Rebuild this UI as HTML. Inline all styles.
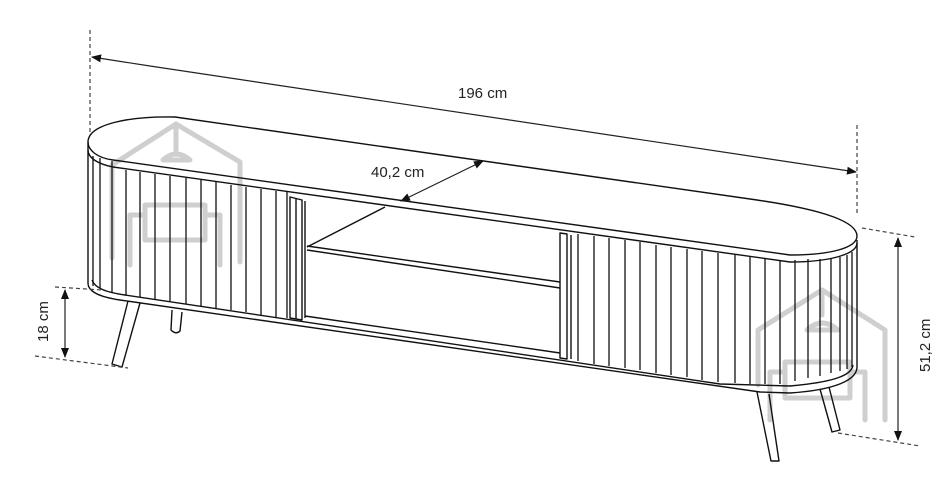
<!DOCTYPE html>
<html><head><meta charset="utf-8"><style>
html,body{margin:0;padding:0;background:#fff;}
svg{display:block;}
text{font-family:"Liberation Sans",sans-serif;font-size:15px;fill:#222;}
</style></head><body>
<svg width="948" height="480" viewBox="0 0 948 480" xmlns="http://www.w3.org/2000/svg">
<defs>
<marker id="a" markerWidth="10" markerHeight="8" refX="9" refY="4" orient="auto" markerUnits="userSpaceOnUse">
<path d="M0,0 L10,4 L0,8 z" fill="#111"/></marker>
</defs>
<path d="M88,142 C88,124 130,116 175,117 L757,200 C825,210 857,222 857,236 C857,248 830,255 790,255 L113,160 C97,158 88,150 88,142 Z" fill="#fff"/>
<!-- watermarks -->
<g fill="none" stroke="#cfcfcf" stroke-width="5" stroke-linejoin="round" stroke-linecap="round">
<path d="M112,258 V165 L176,124 L240,162 V262"/>
<path d="M176,124 V150"/>
<path d="M163,160 Q176,148 190,160 Z"/>
<path d="M130,265 V215 H145 V205 H205 V215 H220 V265"/>
<path d="M145,215 V240 H205 V215"/>
<path d="M758,385 V330 L822,290 L885,330 V420"/>
<path d="M822,290 V315"/>
<path d="M807,330 Q822,316 838,330 Z"/>
<path d="M770,420 V372 H785 V362 H850 V372 H865 V420"/>
<path d="M785,372 V398 H850 V372"/>
</g>
<g fill="none" stroke="#111" stroke-width="1.4" stroke-linejoin="round">
<path d="M88,142 C88,124 130,116 175,117 L757,200 C825,210 857,222 857,236 C857,248 830,255 790,255 L113,160 C97,158 88,150 88,142 Z"/>
<path d="M88,142 V150 C88,158 98,164 113,167 L790,262 C830,262 857,254 857,243"/>
<path d="M88,150 V283 C88,292 100,297 120,300 L760,392 L790,393 C835,390 857,380 857,367 V240"/>
<path d="M92,280 C95,288 105,292 125,295 L720,384 L790,386 C835,382 852,375 853,365"/>
<path d="M128,301 L112,364 L122,367 L140,303"/>
<path d="M172,310 L171,330 Q176,335 180,331 L182,312"/>
<path d="M757,392 L771,461 L779,461 L769,394"/>
<path d="M820,389 L832,432 L840,430 L829,387"/>
<path d="M290,197 L302,200 V320 L290,318 Z"/>
<path d="M296,198 V319"/>
<path d="M305,201 V318"/>
<path d="M307,247 L385,207"/>
<path d="M307,246 L560,282 M307,250 L560,288"/>
<path d="M305,316 L560,353"/>
<path d="M560,233 L567,234 V359 L560,358 Z"/>
<path d="M571,235 V359"/>
</g>
<g stroke="#111" stroke-width="1.3" fill="none">
<path d="M93,156V286 M100,158V288 M112,161V292 M126,170V295 M140,172V297 M155,174V299 M170,176V301 M186,178V304 M201,180V306 M216,182V308 M231,185V310 M246,187V312 M261,189V315 M276,191V317 M287,192V318"/>
<path d="M578,234V361 M594,236V364 M609,238V366 M625,240V368 M640,242V370 M656,245V373 M671,247V375 M687,249V377 M702,251V380 M718,253V382 M735,255V383 M750,257V384 M765,259V384 M780,260V384 M795,260V381 M808,259V378 M820,259V376 M831,258V373 M840,257V371 M847,255V369 M852,252V367"/>
</g>
<g stroke="#444" stroke-width="1.2" fill="none">
<path d="M90,30 V135 M857,125 V215" stroke-dasharray="4,3"/>
<path d="M55,287 L102,290 M35,356 L128,368 M862,228 L915,237 M838,433 L920,446" stroke-dasharray="4,3"/>
</g>
<g stroke="#222" stroke-width="1.2">
<line x1="150" y1="66" x2="92" y2="57" marker-end="url(#a)"/>
<line x1="150" y1="66" x2="856" y2="172" marker-end="url(#a)"/>
<line x1="440" y1="182" x2="483" y2="161" marker-end="url(#a)"/>
<line x1="440" y1="182" x2="401" y2="201" marker-end="url(#a)"/>
<line x1="65" y1="320" x2="65" y2="290" marker-end="url(#a)"/>
<line x1="65" y1="320" x2="65" y2="357" marker-end="url(#a)"/>
<line x1="898" y1="340" x2="898" y2="238" marker-end="url(#a)"/>
<line x1="898" y1="340" x2="898" y2="440" marker-end="url(#a)"/>
</g>
<text x="458" y="98">196 cm</text>
<text x="371" y="177">40,2 cm</text>
<text transform="translate(48,342) rotate(-90)">18 cm</text>
<text transform="translate(930,372) rotate(-90)">51,2 cm</text>
</svg>
</body></html>
